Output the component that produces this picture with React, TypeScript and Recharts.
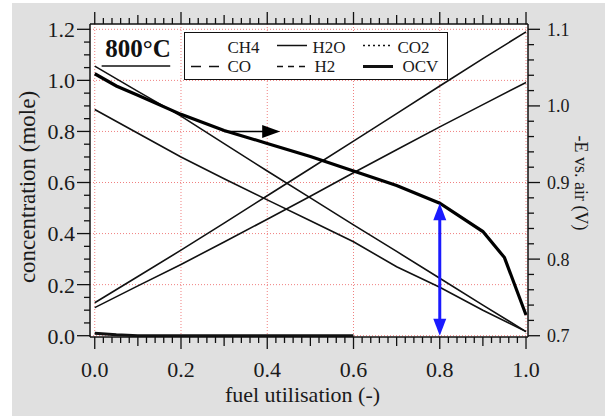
import React from 'react';
import {
  ComposedChart,
  Line,
  XAxis,
  YAxis,
  CartesianGrid,
  ReferenceLine,
  Legend,
} from 'recharts';

// ---------------------------------------------------------------------------
// Data
// ---------------------------------------------------------------------------
const utilisation = [0, 0.1, 0.2, 0.3, 0.4, 0.5, 0.6, 0.7, 0.8, 0.9, 1.0];
const h2 = [1.056, 0.957, 0.86, 0.752, 0.645, 0.54, 0.434, 0.33, 0.225, 0.12, 0.016];
const co = [0.886, 0.793, 0.7, 0.615, 0.532, 0.45, 0.368, 0.27, 0.19, 0.1, 0.016];
const h2o = [0.129, 0.232, 0.335, 0.441, 0.548, 0.655, 0.762, 0.87, 0.978, 1.085, 1.19];
const co2 = [0.11, 0.195, 0.279, 0.367, 0.456, 0.546, 0.638, 0.728, 0.818, 0.905, 0.992];

const ch4Util = [0, 0.05, 0.1, 0.2, 0.3, 0.4, 0.5, 0.6];
const ch4 = [0.01, 0.004, 0, 0, 0, 0, 0, 0];

const ocvUtil = [0, 0.05, 0.1, 0.2, 0.3, 0.4, 0.5, 0.6, 0.7, 0.8, 0.9, 0.95, 1.0];
const ocv = [1.042, 1.026, 1.014, 0.989, 0.968, 0.951, 0.934, 0.915, 0.896, 0.873, 0.836, 0.802, 0.727];

// axis labels / grid
const xLabels = [0, 0.2, 0.4, 0.6, 0.8, 1.0];
const yLabels = [0, 0.2, 0.4, 0.6, 0.8, 1.0, 1.2];
const vLabels = [0.7, 0.8, 0.9, 1.0, 1.1];

// minor tick marks
const xTicks = Array.from({ length: 51 }, (_, i) => +(i * 0.02).toFixed(2));
const yTicks = Array.from({ length: 25 }, (_, i) => +(i * 0.05).toFixed(2));
const vTicks = Array.from({ length: 21 }, (_, i) => +(0.7 + i * 0.02).toFixed(2));

// annotations
const arrowFrom = 0.3;
const arrowTo = 0.43;
const arrowLevel = 0.8;
const gapAt = 0.8;
const tempLabel = '800°C';

const toPoints = (xs: number[], ys: number[]) => xs.map((u, i) => ({ u, v: ys[i] }));

const FONT = '"Liberation Serif", "DejaVu Serif", serif';
const near = (list: number[], v: number) => list.some((m) => Math.abs(m - v) < 1e-6);

// ---------------------------------------------------------------------------
// Tick renderers
// ---------------------------------------------------------------------------
const BottomTick = (props: any) => {
  const { x, y, payload } = props;
  const v = payload.value as number;
  const major = near(xLabels, v);
  const mid = !major && Math.abs(v * 10 - Math.round(v * 10)) < 1e-6;
  const len = major ? 12 : mid ? 9 : 6;
  return (
    <g>
      <line x1={x} y1={y} x2={x} y2={y + len} stroke="#111" strokeWidth={1.3} />
      {major && (
        <text x={x} y={y + 40} textAnchor="middle" fontSize={22} fontFamily={FONT} fill="#1a1a1a">
          {v.toFixed(1)}
        </text>
      )}
    </g>
  );
};

const TopTick = (props: any) => {
  const { x, y, payload } = props;
  const v = payload.value as number;
  const major = near(xLabels, v);
  const mid = !major && Math.abs(v * 10 - Math.round(v * 10)) < 1e-6;
  const len = major ? 12 : mid ? 9 : 6;
  return <line x1={x} y1={y} x2={x} y2={y - len} stroke="#111" strokeWidth={1.3} />;
};

const LeftTick = (props: any) => {
  const { x, y, payload } = props;
  const v = payload.value as number;
  const major = near(yLabels, v);
  const len = major ? 13 : 6;
  return (
    <g>
      <line x1={x} y1={y} x2={x - len} y2={y} stroke="#111" strokeWidth={1.3} />
      {major && (
        <text x={x - 15} y={y} dy="0.36em" textAnchor="end" fontSize={22} fontFamily={FONT} fill="#1a1a1a">
          {v.toFixed(1)}
        </text>
      )}
    </g>
  );
};

const RightTick = (props: any) => {
  const { x, y, payload } = props;
  const v = payload.value as number;
  const major = near(vLabels, v);
  const len = major ? 12 : 6;
  return (
    <g>
      <line x1={x} y1={y} x2={x + len} y2={y} stroke="#111" strokeWidth={1.3} />
      {major && (
        <text x={x + 19} y={y} dy="0.36em" textAnchor="start" fontSize={18} fontFamily={FONT} fill="#1a1a1a">
          {v.toFixed(1)}
        </text>
      )}
    </g>
  );
};

// ---------------------------------------------------------------------------
// Annotation shapes
// ---------------------------------------------------------------------------
const RightArrow = (p: any) => {
  const { x1, y1, x2, y2 } = p;
  const head = 18;
  const half = 6.5;
  return (
    <g>
      <line x1={x1} y1={y1} x2={x2 - head + 1} y2={y2} stroke="#000" strokeWidth={1.6} />
      <polygon points={`${x2},${y2} ${x2 - head},${y2 - half} ${x2 - head},${y2 + half}`} fill="#000" />
    </g>
  );
};

const DoubleArrow = (p: any) => {
  const { x1, y1, x2, y2 } = p;
  const top = Math.min(y1, y2);
  const bot = Math.max(y1, y2);
  const head = 17;
  const half = 6.5;
  const blue = '#1a1aff';
  return (
    <g>
      <line x1={x1} y1={top + head - 1} x2={x2} y2={bot - head + 1} stroke={blue} strokeWidth={3} />
      <polygon points={`${x1},${top} ${x1 - half},${top + head} ${x1 + half},${top + head}`} fill={blue} />
      <polygon points={`${x1},${bot} ${x1 - half},${bot - head} ${x1 + half},${bot - head}`} fill={blue} />
    </g>
  );
};

const TempMark = (p: any) => {
  const { x1, y1, x2, y2 } = p;
  return (
    <g>
      <line x1={x1} y1={y1} x2={x2} y2={y2} stroke="#111" strokeWidth={1.5} />
      <text
        x={(x1 + x2) / 2 + 2}
        y={y1 - 9.5}
        textAnchor="middle"
        fontSize={25}
        fontWeight="bold"
        fontFamily={FONT}
        fill="#111"
      >
        {tempLabel}
      </text>
    </g>
  );
};

// ---------------------------------------------------------------------------
// Legend
// ---------------------------------------------------------------------------
const legendRows = [
  [
    { name: 'CH4', dash: '', width: 0, tx: 44 },
    { name: 'H2O', dash: '', width: 1.5, tx: 129 },
    { name: 'CO2', dash: '2 3', width: 1.5, tx: 214 },
  ],
  [
    { name: 'CO', dash: '10 8', width: 1.5, tx: 44 },
    { name: 'H2', dash: '6 5', width: 1.5, tx: 131 },
    { name: 'OCV', dash: '', width: 3, tx: 219 },
  ],
];
const sampleX = [6, 92, 178];

const LegendBox = () => (
  <div
    style={{
      width: 264,
      height: 48,
      boxSizing: 'border-box',
      border: '1.5px solid #111',
      background: '#fff',
    }}
  >
    <svg width={261} height={45} style={{ display: 'block' }}>
      {legendRows.map((row, r) =>
        row.map((item, c) => {
          const ly = r === 0 ? 12.5 : 33.5;
          const ty = r === 0 ? 20 : 38.5;
          return (
            <g key={item.name}>
              {item.width > 0 && (
                <line
                  x1={sampleX[c]}
                  x2={sampleX[c] + 30}
                  y1={ly}
                  y2={ly}
                  stroke="#111"
                  strokeWidth={item.width}
                  strokeDasharray={item.dash || undefined}
                />
              )}
              <text x={item.tx - 1.5} y={ty} fontSize={17} fontFamily={FONT} fill="#1a1a1a">
                {item.name}
              </text>
            </g>
          );
        }),
      )}
    </svg>
  </div>
);

// ---------------------------------------------------------------------------
// Chart
// ---------------------------------------------------------------------------
export default function App(): React.JSX.Element {
  const grid = { stroke: '#f08080', strokeDasharray: '1 2', strokeWidth: 1 };
  return (
    <div style={{ position: 'relative', width: 608, height: 416, background: '#fff' }}>
      <style>{'body{margin:0}'}</style>
      <div style={{ position: 'absolute', left: 12, top: 3, width: 593, height: 413, background: '#e0e0e0' }} />
      <div style={{ position: 'absolute', left: 0, top: 0 }}>
        <ComposedChart width={608} height={416} margin={{ top: 0, right: 0, bottom: 0, left: 0 }} style={{ fontFamily: FONT }}>
          <CartesianGrid fill="#fff" horizontal={false} vertical={false} yAxisId="left" />
          <XAxis
            type="number"
            dataKey="u"
            domain={[-0.011, 1.0046]}
            allowDataOverflow
            ticks={xTicks}
            interval={0}
            tickSize={0}
            tickMargin={0}
            tick={<BottomTick />}
            axisLine={{ stroke: '#111', strokeWidth: 1.5 }}
            tickLine={false}
            height={79}
            label={(p: any) => {
              const vb = p.viewBox || { x: 90, y: 337 };
              return (
                <text x={vb.x + 212.5} y={vb.y + 65} textAnchor="middle" fontSize={22} fontFamily={FONT} fill="#1a1a1a">
                  fuel utilisation (-)
                </text>
              );
            }}
          />
          <XAxis
            xAxisId="top"
            orientation="top"
            type="number"
            dataKey="u"
            domain={[-0.011, 1.0046]}
            allowDataOverflow
            ticks={xTicks}
            interval={0}
            tickSize={0}
            tickMargin={0}
            tick={<TopTick />}
            axisLine={{ stroke: '#111', strokeWidth: 1.5 }}
            tickLine={false}
            height={24}
          />
          <YAxis
            yAxisId="left"
            type="number"
            domain={[-0.0051, 1.2208]}
            allowDataOverflow
            ticks={yTicks}
            interval={0}
            tickSize={0}
            tickMargin={0}
            tick={<LeftTick />}
            axisLine={{ stroke: '#111', strokeWidth: 1.5 }}
            tickLine={false}
            width={90}
            label={(p: any) => {
              const vb = p.viewBox || { x: 0, y: 24 };
              const cx = vb.x + 35;
              const cy = vb.y + 163;
              return (
                <text x={cx} y={cy} transform={`rotate(-90 ${cx} ${cy})`} textAnchor="middle" fontSize={23} fontFamily={FONT} fill="#1a1a1a">
                  concentration (mole)
                </text>
              );
            }}
          />
          <YAxis
            yAxisId="right"
            orientation="right"
            type="number"
            domain={[0.69833, 1.10693]}
            allowDataOverflow
            ticks={vTicks}
            interval={0}
            tickSize={0}
            tickMargin={0}
            tick={<RightTick />}
            axisLine={{ stroke: '#111', strokeWidth: 1.5 }}
            tickLine={false}
            width={80}
            label={(p: any) => {
              const vb = p.viewBox || { x: 528, y: 24 };
              const cx = vb.x + 47;
              const cy = vb.y + 159;
              return (
                <text x={cx} y={cy} transform={`rotate(90 ${cx} ${cy})`} textAnchor="middle" fontSize={18} fontFamily={FONT} fill="#1a1a1a">
                  -E vs. air (V)
                </text>
              );
            }}
          />

          {xLabels.map((v) => (
            <ReferenceLine key={`gx-${v}`} x={v} yAxisId="left" {...grid} />
          ))}
          {yLabels.map((v) => (
            <ReferenceLine key={`gy-${v}`} y={v} yAxisId="left" {...grid} />
          ))}

          <Line yAxisId="left" data={toPoints(utilisation, h2)} dataKey="v" type="linear" stroke="#111" strokeWidth={1.6} dot={false} isAnimationActive={false} />
          <Line yAxisId="left" data={toPoints(utilisation, co)} dataKey="v" type="linear" stroke="#111" strokeWidth={1.6} dot={false} isAnimationActive={false} />
          <Line yAxisId="left" data={toPoints(utilisation, h2o)} dataKey="v" type="linear" stroke="#111" strokeWidth={1.6} dot={false} isAnimationActive={false} />
          <Line yAxisId="left" data={toPoints(utilisation, co2)} dataKey="v" type="linear" stroke="#111" strokeWidth={1.6} dot={false} isAnimationActive={false} />
          <Line yAxisId="left" data={toPoints(ch4Util, ch4)} dataKey="v" type="linear" stroke="#111" strokeWidth={3} dot={false} isAnimationActive={false} />
          <Line yAxisId="right" data={toPoints(ocvUtil, ocv)} dataKey="v" type="linear" stroke="#000" strokeWidth={3.2} dot={false} isAnimationActive={false} />

          <ReferenceLine
            yAxisId="left"
            segment={[{ x: arrowFrom, y: arrowLevel }, { x: arrowTo, y: arrowLevel }]}
            shape={RightArrow}
          />
          <ReferenceLine
            yAxisId="right"
            segment={[{ x: gapAt, y: vLabels[0] }, { x: gapAt, y: ocv[ocvUtil.indexOf(gapAt)] }]}
            shape={DoubleArrow}
          />
          <ReferenceLine
            yAxisId="left"
            segment={[{ x: 0.016, y: 1.056 }, { x: 0.175, y: 1.056 }]}
            shape={TempMark}
          />

          <Legend
            layout="vertical"
            align="center"
            verticalAlign="middle"
            wrapperStyle={{ left: 184, top: 31.5, width: 264, height: 48 }}
            content={() => <LegendBox />}
          />
        </ComposedChart>
      </div>
    </div>
  );
}
